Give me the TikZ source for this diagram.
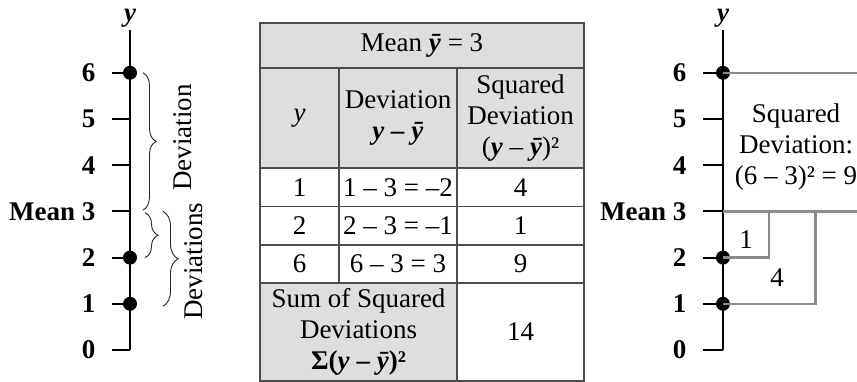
\documentclass[tikz,border=0pt]{standalone}
\usepackage{fontspec}
\setmainfont{Liberation Serif}
\usepackage{tikz}
\usetikzlibrary{decorations.pathreplacing}

\begin{document}
\begin{tikzpicture}[
    x=1pt, y=1pt,
    every node/.style={font=\fontsize{27}{31}\selectfont},
    axislbl/.style={anchor=east, font=\fontsize{27}{31}\selectfont\bfseries},
    axisline/.style={draw=black, line width=2pt},
    cell/.style={rectangle, draw=black!70, line width=1.2pt, inner sep=0pt, text centered, align=center},
    hdcell/.style={cell, fill=black!13},
    dot/.style={circle, fill=black, inner sep=0pt, minimum size=14pt},
    sqline/.style={draw=black!45, line width=2.4pt},
    devbrace/.style={decorate, decoration={brace, amplitude=#1}, line width=0.9pt, draw=black!85}
]
\useasboundingbox (0,0) rectangle (857,381);
\clip (0,0) rectangle (857,381);

% Left axis with the deviations
\begin{scope}[shift={(130,31)}, y=46.2pt]
\draw[axisline] (0,0) -- (0,6.93);
\node[font=\fontsize{27}{31}\selectfont\bfseries\itshape] (ly) at (0,7.18) {y};
\foreach \v in {0,...,6}
    \draw[axisline] (-18,\v) -- (0,\v);
\foreach \v in {0,1,2,4,5,6}
    \node[axislbl] (ll\v) at (-31,\v) {\v};
\node[axislbl] (llmean) at (-31,3) {Mean 3};
\foreach \v in {1,2,6}
    \node[dot] (ld\v) at (0,\v) {};

% braces
\draw[devbrace=13pt] (13,6) -- (13,3.03);
\draw[devbrace=13pt] (15,2.97) -- (15,2);
\draw[devbrace=15pt] (33,3) -- (33,0.95);
\node[rotate=90] (ldev) at (53,4.6) {Deviation};
\node[rotate=90] (ldevs) at (64,1.92) {Deviations};
\end{scope}

% Table
\node[hdcell, minimum width=324pt, minimum height=45pt] (tmean) at (422,335.5)
    {Mean \textbf{\textit{ȳ}} = 3};
\node[hdcell, minimum width=79pt, minimum height=100pt] (thy) at (299.5,263) {\textit{y}};
\node[hdcell, minimum width=118pt, minimum height=100pt] (thdev) at (398,263)
    {Deviation\\\textbf{\textit{y – ȳ}}};
\node[hdcell, minimum width=127pt, minimum height=100pt] (thsq) at (520.5,263)
    {Squared\\Deviation\\(\textbf{\textit{y}} – \textbf{\textit{ȳ}})²};
\foreach \yv/\dev/\sq/\yc [count=\i] in {1/{1 – 3 = –2}/4/193.5, 2/{2 – 3 = –1}/1/155, 6/{6 – 3 = 3}/9/117} {
    \node[cell, minimum width=79pt, minimum height=38.5pt] (ty\i) at (299.5,\yc) {\yv};
    \node[cell, minimum width=118pt, minimum height=38.5pt] (td\i) at (398,\yc) {\dev};
    \node[cell, minimum width=127pt, minimum height=38.5pt] (ts\i) at (520.5,\yc) {\sq};
}
\node[hdcell, minimum width=197pt, minimum height=98pt] (tsum) at (358.5,49)
    {Sum of Squared\\Deviations\\\textbf{Σ(\textit{y} – \textit{ȳ})²}};
\node[cell, minimum width=127pt, minimum height=98pt] (ttot) at (520.5,49) {14};

% Right axis with the squares
\begin{scope}[shift={(723,31)}, y=46.2pt]
\draw[axisline] (0,0) -- (0,6.93);
\node[font=\fontsize{27}{31}\selectfont\bfseries\itshape] (ry) at (0,7.18) {y};
\foreach \v in {0,...,6}
    \draw[axisline] (-20,\v) -- (0,\v);
\foreach \v in {0,1,2,4,5,6}
    \node[axislbl] (rl\v) at (-33,\v) {\v};
\node[axislbl] (rlmean) at (-33,3) {Mean 3};
\foreach \v in {1,2,6}
    \node[dot] (rd\v) at (0,\v) {};

% squares
\draw[sqline] (rd2.center) -| (46.2,3) -- (0,3);
\draw[sqline] (rd1.center) -| (92.4,3) -- (0,3);
\draw[sqline] (rd6.center) -| (138.6,3) -- (0,3);
\node (rone) at (23,2.38) {1};
\node (rfour) at (54,1.56) {4};
\node[align=center] (rsq) at (73,4.4) {Squared\\Deviation:\\(6 – 3)² = 9};
\end{scope}
\end{tikzpicture}
\end{document}
